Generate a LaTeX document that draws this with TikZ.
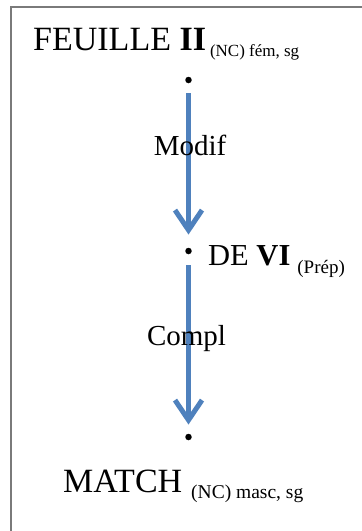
\documentclass[tikz,border=0pt]{standalone}
\usepackage{fontspec}
\setmainfont{Liberation Serif}
\usetikzlibrary{arrows.meta}
\definecolor{arrowblue}{HTML}{4F81BD}
\definecolor{framegray}{HTML}{7A7A7A}
\tikzset{
  word/.style={inner sep=0pt, anchor=base west, font=\fontsize{34}{36}\selectfont},
  rel/.style={inner sep=0pt, anchor=base, font=\fontsize{29}{31}\selectfont},
  dot/.style={circle, fill=black, inner sep=0pt, minimum size=6.5pt},
  dep/.style={draw=arrowblue, line width=5pt, -{Straight Barb[length=20pt, width=27pt]}},
  frameline/.style={draw=framegray, line width=1.5pt}
}
% #1 gap, #2 drop, #3 size, #4 text
\newcommand{\subtxt}[4]{\hspace{#1}\raisebox{-#2}{\fontsize{#3}{#3}\selectfont #4}}
\begin{document}
\begin{tikzpicture}[x=1pt,y=1pt]
\useasboundingbox (0,0) rectangle (362,-531);
\coordinate (ftl) at (11,-7);
\coordinate (ftr) at (362,-7);
\coordinate (fbl) at (11,-531);
\draw[frameline] (ftr) -- (ftl) -- (fbl);
\node[word] (feuille) at (33,-50) {FEUILLE \textbf{II}\subtxt{4pt}{6pt}{17}{(NC) fém, sg}};
\node[word, font=\fontsize{30.5}{32}\selectfont] (de) at (208,-265) {DE \textbf{VI}\subtxt{7pt}{8pt}{19}{(Prép)}};
\node[word] (match) at (63,-492) {MATCH\subtxt{9pt}{6pt}{19.5}{(NC) masc, sg}};
\node[dot] (d1) at (188.5,-80) {};
\node[dot] (d2) at (188.5,-251) {};
\node[dot] (d3) at (188.5,-437) {};
\draw[dep, shorten <=10pt, shorten >=13pt] (d1) -- (d2);
\draw[dep, shorten <=11pt, shorten >=9pt] (d2) -- (d3);
\node[rel] (modif) at (190,-155) {Modif};
\node[rel] (compl) at (186.5,-345) {Compl};
\end{tikzpicture}
\end{document}
